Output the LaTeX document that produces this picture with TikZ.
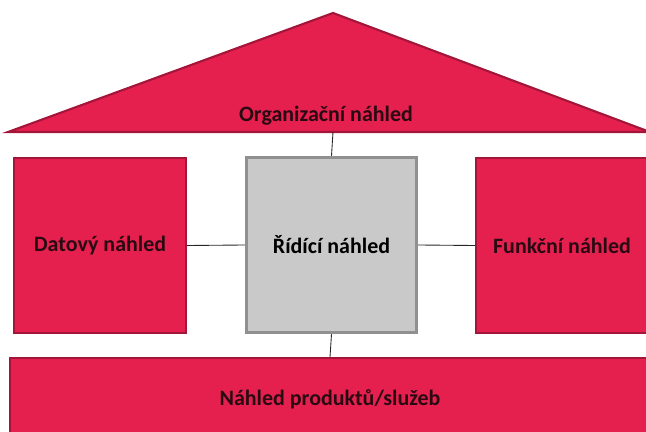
\documentclass[tikz,border=0pt]{standalone}
\usepackage{fontspec}
\setmainfont{Carlito}
\usetikzlibrary{positioning}
\definecolor{viewred}{HTML}{E5204E}
\definecolor{edgered}{HTML}{A3163A}
\definecolor{viewgray}{HTML}{C9C9C9}
\definecolor{edgegray}{HTML}{909090}
\definecolor{inktext}{HTML}{2A0A12}

\begin{document}
\begin{tikzpicture}[
    x=0.02cm, y=-0.02cm,
    pillar/.style={
        rectangle,
        draw=edgered,
        line width=1.2pt,
        fill=viewred,
        minimum width=3.44cm,
        minimum height=3.5cm,
        align=center,
        font=\bfseries\fontsize{12.5}{14}\selectfont,
        text=inktext
    },
    core/.style={
        pillar,
        draw=edgegray,
        line width=2pt,
        fill=viewgray,
        text=black
    },
    link/.style={draw=black!85, line width=0.5pt}
]
    \useasboundingbox (0,0) rectangle (646,432);

    % Roof
    \draw[edgered, line width=1.2pt, fill=viewred] (8,132) -- (333,13) -- (650,132) -- cycle;
    \node[font=\bfseries\fontsize{12.5}{14}\selectfont, text=inktext] (org) at (326,116) {Organizační náhled};
    \coordinate (roofbase) at (333,132);

    % Pillars
    \node[pillar] (data) at (100,245.5) {Datový náhled};
    \node[core, minimum width=3.4cm] (ctrl) at (331.5,245) {Řídící náhled};
    \node[pillar] (func) at (562,245.5) {Funkční náhled};

    % Base
    \node[pillar, minimum width=12.8cm, minimum height=1.64cm] (prod) at (330,399) {Náhled produktů/služeb};

    % Links
    \draw[link] (roofbase) -- (ctrl.north);
    \draw[link] (data.east) -- (ctrl.west);
    \draw[link] (ctrl.east) -- (func.west);
    \draw[link] (ctrl.south) -- (prod.north);
\end{tikzpicture}
\end{document}
